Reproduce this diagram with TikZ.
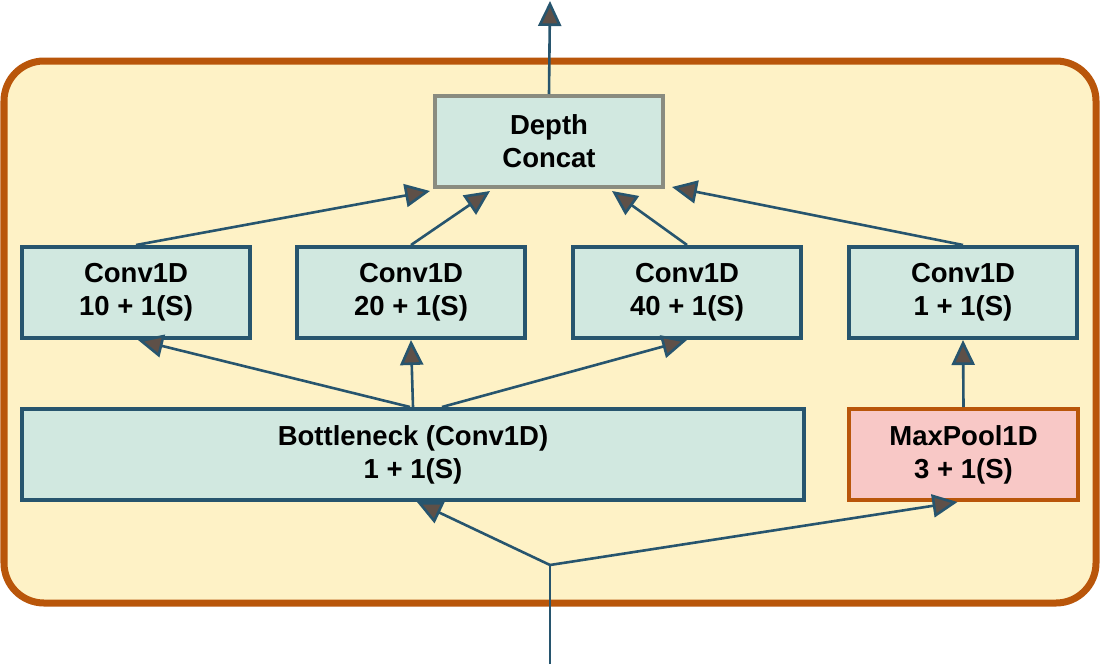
\documentclass[tikz,border=0pt]{standalone}
\usepackage{fontspec}
\setmainfont{Liberation Sans}
\usetikzlibrary{arrows.meta}
\definecolor{cream}{HTML}{FEF2C6}
\definecolor{rust}{HTML}{B9560A}
\definecolor{cyanfill}{HTML}{D1E8E0}
\definecolor{boxblue}{HTML}{27556E}
\definecolor{pinkfill}{HTML}{F8C8C6}
\definecolor{graybd}{HTML}{8A8C80}
\definecolor{tipfill}{HTML}{5E5048}
\tikzset{
  layer/.style={draw=boxblue, fill=cyanfill, line width=4pt, minimum width=228pt, minimum height=91pt,
    align=center, font=\fontsize{27.5}{33}\selectfont\bfseries, inner sep=0pt},
  arr/.style={draw=boxblue, line width=2.6pt,
    -{Triangle[width=23pt,length=25pt,fill=tipfill]}},
  wire/.style={draw=boxblue, line width=2.6pt},
}
\begin{document}
\begin{tikzpicture}[x=1pt,y=-1pt]
\useasboundingbox (0,0) rectangle (1100,664);
\draw[rust, fill=cream, line width=7pt, rounded corners=40pt] (4,61) rectangle (1096,603);
\node[layer, draw=graybd] (dc) at (549,141.5) {Depth\\Concat};
\node[layer] (c1) at (136,292.5) {Conv1D\\10 + 1(S)};
\node[layer] (c2) at (411,292.5) {Conv1D\\20 + 1(S)};
\node[layer] (c3) at (687,292.5) {Conv1D\\40 + 1(S)};
\node[layer] (c4) at (963,292.5) {Conv1D\\1 + 1(S)};
\node[layer, minimum width=782pt] (bn) at (413,454.5) {Bottleneck (Conv1D)\\1 + 1(S)};
\node[layer, draw=rust, fill=pinkfill, minimum width=229pt] (mp) at (963.5,454.5) {MaxPool1D\\3 + 1(S)};
\coordinate (in) at (550,664);
\coordinate (split) at (550,565);
\coordinate (out) at (550,1);
\draw[wire] (in) -- (split);
\draw[arr] (split) -- ([xshift=4pt]bn.south);
\draw[arr] (split) -- ([xshift=-6pt]mp.south);
\draw[arr] ([xshift=-3pt]bn.north) -- ([xshift=2pt]c1.south);
\draw[arr] (bn.north) -- (c2.south);
\draw[arr] ([xshift=29pt]bn.north) -- (c3.south);
\draw[arr] (mp.north) -- (c4.south);
\draw[arr] (c1.north) -- ([xshift=-3pt,yshift=-2pt]dc.south west);
\draw[arr] (c2.north) -- ([xshift=57pt,yshift=-2pt]dc.south west);
\draw[arr] (c3.north) -- ([xshift=63pt,yshift=-2pt]dc.south);
\draw[arr] (c4.north) -- ([xshift=7pt,yshift=2pt]dc.south east);
\draw[arr] (dc.north) -- (out);
\end{tikzpicture}
\end{document}
